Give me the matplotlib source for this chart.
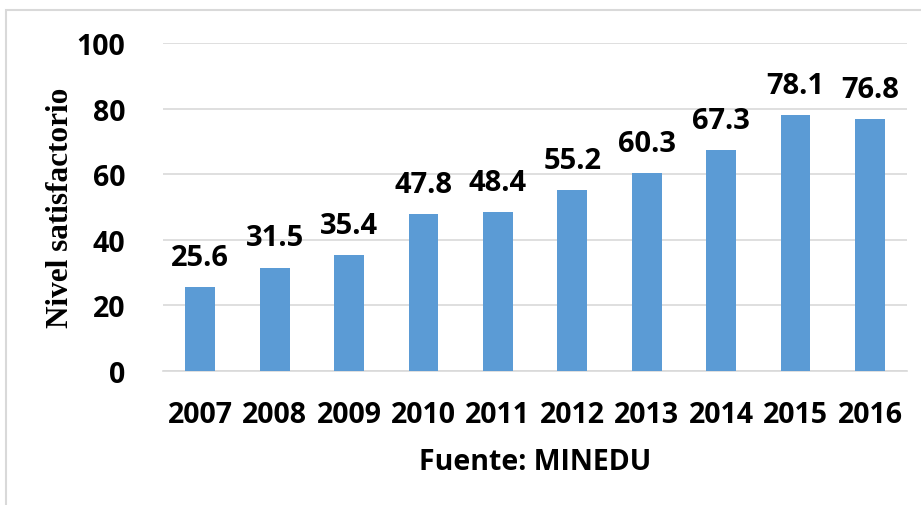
import matplotlib
matplotlib.use('Agg')
import matplotlib.pyplot as plt
from matplotlib.patches import Rectangle

# Data
years = ['2007', '2008', '2009', '2010', '2011', '2012', '2013', '2014', '2015', '2016']
satisfactorio = [25.6, 31.5, 35.4, 47.8, 48.4, 55.2, 60.3, 67.3, 78.1, 76.8]
y_ticks = [0, 20, 40, 60, 80, 100]

fig = plt.figure(figsize=(9.21, 5.06), dpi=100, facecolor='white')
ax = fig.add_axes([0.177, 0.265, 0.808, 0.648])

x = range(len(years))
ax.bar(x, satisfactorio, width=0.40, color='#5B9BD5', zorder=3)

for xi, v in zip(x, satisfactorio):
    ax.annotate(f'{v:.1f}', (xi, v), xytext=(0, 11), textcoords='offset points',
                ha='center', va='bottom', fontsize=21, fontweight='bold',
                family='Open Sans', color='black')

ax.set_xlim(-0.5, len(years) - 0.5)
ax.set_ylim(0, 100)
ax.set_yticks(y_ticks)
ax.set_xticks(list(x))
ax.set_xticklabels(years)
ax.grid(axis='y', color='#D9D9D9', linewidth=1.2, zorder=0)
for s in ['top', 'right', 'left']:
    ax.spines[s].set_visible(False)
ax.spines['bottom'].set_color('#D9D9D9')
ax.spines['bottom'].set_linewidth(1.2)
ax.tick_params(length=0, pad=21)
ax.tick_params(axis='y', pad=27)
for lab in ax.get_xticklabels() + ax.get_yticklabels():
    lab.set_fontsize(20.5)
    lab.set_fontweight('bold')
    lab.set_family('Open Sans')

ax.set_ylabel('Nivel satisfactorio', fontsize=22.5, fontweight='bold',
              family='Liberation Serif', labelpad=1)
fig.text(0.581, 0.085, 'Fuente: MINEDU', ha='center', va='center', fontsize=20.5,
         fontweight='bold', family='Open Sans')

# chart border
fig.patches.append(Rectangle((6 / 921, -0.05), 1.1, 1 - 11 / 506 + 0.05,
                             transform=fig.transFigure, fill=False,
                             edgecolor='#D9D9D9', linewidth=1.5))

plt.savefig('out.png', dpi=100)
